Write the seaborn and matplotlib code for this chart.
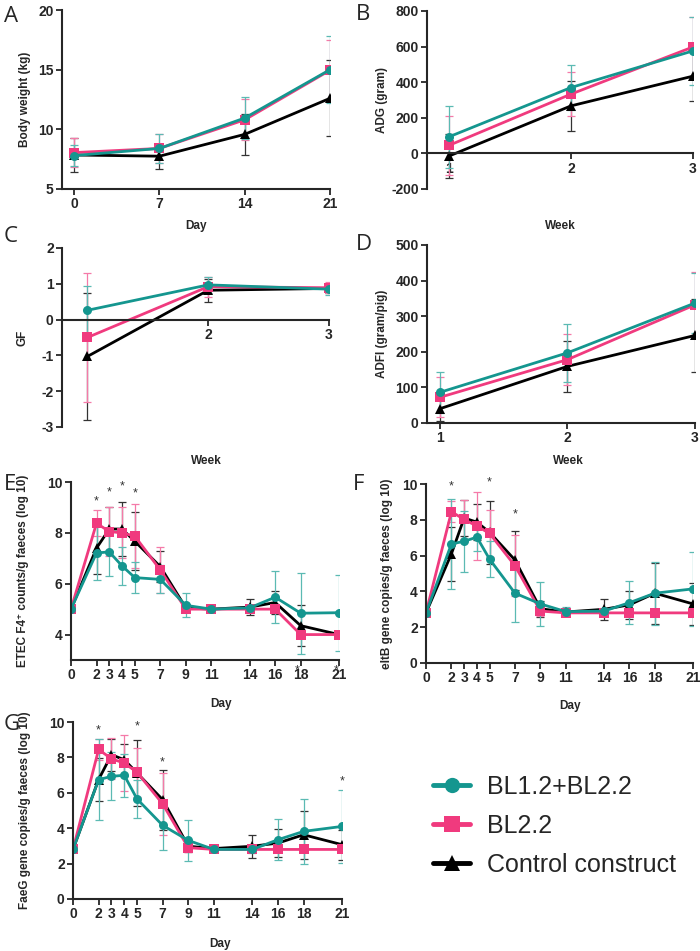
import numpy as np
import pandas as pd
import matplotlib
matplotlib.use('Agg')
import matplotlib.pyplot as plt
from matplotlib.lines import Line2D
import seaborn as sns

# Groups (drawn bottom to top)
groups = ['Control construct', 'BL2.2', 'BL1.2+BL2.2']
legend_order = ['BL1.2+BL2.2', 'BL2.2', 'Control construct']
colors = {'BL1.2+BL2.2': '#14968f', 'BL2.2': '#f03a7e', 'Control construct': '#000000'}
err_colors = {'BL1.2+BL2.2': '#5bbab3', 'BL2.2': '#f57aa8', 'Control construct': '#333333'}
markers = {'BL1.2+BL2.2': 'o', 'BL2.2': 's', 'Control construct': '^'}

# A - body weight
bw_day = [0, 7, 14, 21]
bw_combo = [7.8, 8.4, 10.95, 15.0]
bw_combo_sd = [0.9, 1.2, 1.75, 2.8]
bw_bl22 = [8.05, 8.4, 10.8, 14.95]
bw_bl22_sd = [1.2, 1.2, 1.7, 2.5]
bw_ctrl = [7.85, 7.75, 9.58, 12.6]
bw_ctrl_sd = [1.45, 1.05, 1.7, 3.2]

# B - ADG
week = [1, 2, 3]
adg_combo = [93, 370, 576]
adg_combo_sd = [174, 125, 190]
adg_bl22 = [45, 333, 598]
adg_bl22_sd = [164, 125, 168]
adg_ctrl = [-15, 267, 434]
adg_ctrl_sd = [125, 140, 139]

# C - GF
gf_combo = [0.26, 0.97, 0.85]
gf_combo_sd = [0.68, 0.22, 0.15]
gf_bl22 = [-0.5, 0.92, 0.89]
gf_bl22_sd = [1.8, 0.28, 0.15]
gf_ctrl = [-1.03, 0.82, 0.87]
gf_ctrl_sd = [1.78, 0.32, 0.13]

# D - ADFI
adfi_combo = [86, 197, 337]
adfi_combo_sd = [57, 82, 83]
adfi_bl22 = [72, 178, 332]
adfi_bl22_sd = [56, 72, 91]
adfi_ctrl = [40, 159, 246]
adfi_ctrl_sd = [35, 71, 103]

# E, F, G - faecal shedding
days = [0, 2, 3, 4, 5, 7, 9, 11, 14, 16, 18, 21]
day_ticks = [0, 2, 3, 4, 5, 7, 9, 11, 14, 16, 18, 21]

etec_combo = [5.0, 7.21, 7.25, 6.7, 6.24, 6.17, 5.15, 5.0, 5.05, 5.47, 4.84, 4.86]
etec_combo_sd = [0.0, 1.05, 0.95, 0.75, 0.6, 0.55, 0.47, 0.05, 0.12, 1.02, 1.6, 1.5]
etec_bl22 = [5.0, 8.38, 8.05, 8.0, 7.87, 6.54, 5.0, 5.0, 5.0, 5.0, 4.0, 4.0]
etec_bl22_sd = [0.0, 0.5, 0.97, 1.0, 1.26, 0.9, 0.0, 0.0, 0.0, 0.0, 0.0, 0.0]
etec_ctrl = [5.0, 7.4, 8.15, 8.15, 7.67, 6.67, 5.05, 5.0, 5.08, 5.26, 4.35, 4.0]
etec_ctrl_sd = [0.0, 1.0, 0.85, 1.07, 1.14, 0.6, 0.0, 0.0, 0.3, 0.46, 0.8, 0.0]
etec_star_x = [2, 3, 4, 5, 17.7, 20.8]
etec_star_y = [9.24, 9.57, 9.83, 9.55, 2.6, 2.6]

eltb_combo = [2.8, 6.65, 6.8, 7.03, 5.8, 3.9, 3.3, 2.87, 2.9, 3.37, 3.9, 4.14]
eltb_combo_sd = [0.0, 2.5, 1.7, 0.8, 1.0, 1.6, 1.25, 0.25, 0.2, 1.2, 1.77, 2.07]
eltb_bl22 = [2.8, 8.45, 8.02, 7.65, 7.24, 5.43, 2.9, 2.8, 2.8, 2.8, 2.8, 2.8]
eltb_bl22_sd = [0.0, 0.6, 1.1, 1.9, 1.3, 1.7, 0.3, 0.0, 0.0, 0.0, 0.0, 0.0]
eltb_ctrl = [2.8, 6.1, 8.1, 7.87, 7.3, 5.75, 3.03, 2.85, 3.0, 3.25, 3.9, 3.3]
eltb_ctrl_sd = [0.0, 1.5, 1.0, 1.0, 1.75, 1.65, 0.45, 0.1, 0.6, 0.8, 1.7, 1.15]
eltb_star_x = [2, 5, 7]
eltb_star_y = [9.85, 10.1, 8.3]

faeg_combo = [2.8, 6.74, 6.93, 6.99, 5.65, 4.16, 3.31, 2.8, 2.8, 3.35, 3.82, 4.1]
faeg_combo_sd = [0.0, 2.3, 1.35, 1.2, 1.07, 1.4, 1.17, 0.15, 0.2, 1.17, 1.83, 2.04]
faeg_bl22 = [2.8, 8.45, 7.92, 7.68, 7.16, 5.37, 2.9, 2.8, 2.8, 2.8, 2.8, 2.8]
faeg_bl22_sd = [0.0, 0.6, 1.15, 1.6, 1.37, 1.75, 0.25, 0.0, 0.0, 0.0, 0.0, 0.0]
faeg_ctrl = [2.8, 6.75, 8.15, 7.87, 7.12, 5.61, 2.98, 2.85, 2.98, 3.16, 3.63, 3.07]
faeg_ctrl_sd = [0.0, 1.2, 0.9, 0.9, 1.88, 1.7, 0.35, 0.1, 0.65, 0.8, 1.37, 0.85]
faeg_star_x = [2, 5, 7, 21]
faeg_star_y = [9.5, 9.75, 7.72, 6.65]

sns.set_style('ticks')
plt.rcParams['font.family'] = ['Liberation Sans', 'DejaVu Sans']
plt.rcParams['font.weight'] = 'bold'
plt.rcParams['axes.labelweight'] = 'bold'
plt.rcParams['axes.unicode_minus'] = False

W, H = 700, 951
fig = plt.figure(figsize=(W / 100, H / 100), dpi=100)
all_axes = []


def box(l, t, r, b):
    return [l / W, 1 - b / H, (r - l) / W, (b - t) / H]


def draw_panel(ax, x, combo, combo_sd, bl22, bl22_sd, ctrl, ctrl_sd):
    series = {'BL1.2+BL2.2': (combo, combo_sd),
              'BL2.2': (bl22, bl22_sd),
              'Control construct': (ctrl, ctrl_sd)}
    rows = []
    for g in groups:
        for xi, yi in zip(x, series[g][0]):
            rows.append({'x': xi, 'y': yi, 'group': g})
    df = pd.DataFrame(rows)
    for g in groups:
        m, sd = series[g]
        ax.errorbar(x, m, yerr=sd, fmt='none', ecolor=err_colors[g],
                    elinewidth=0.9, capsize=3, capthick=0.9, zorder=1.5)
    sns.lineplot(data=df, x='x', y='y', hue='group', style='group',
                 hue_order=groups, style_order=groups, palette=colors,
                 markers=markers, dashes=False, linewidth=2.0, markersize=6.5,
                 markeredgewidth=0, errorbar=None, legend=False, sort=False,
                 ax=ax, zorder=2)
    sns.despine(ax=ax)
    for s in ['left', 'bottom']:
        ax.spines[s].set_linewidth(1.5)
    ax.tick_params(axis='both', width=1.3, length=4, labelsize=10, pad=2)
    all_axes.append(ax)


def set_ticks(ax, xt, yt):
    ax.set_xticks(xt, labels=[str(v) for v in xt])
    ax.set_yticks(yt, labels=[str(v) for v in yt])


def labels(ax, xlabel, ylabel, xl, yl, xlx=0.5):
    ax.set_xlabel(xlabel, fontsize=8.5, fontweight='bold')
    ax.set_ylabel(ylabel, fontsize=8.5, fontweight='bold')
    ax.xaxis.set_label_coords(xlx, xl)
    ax.yaxis.set_label_coords(yl, 0.5)


def stars(ax, xs, ys):
    for sx, sy in zip(xs, ys):
        ax.text(sx, sy, '*', ha='center', va='center', fontsize=9,
                fontweight='normal', color='#333333', clip_on=False)


def letter(x, y, s):
    fig.text(x / W, 1 - y / H, s, fontsize=16, family='Open Sans',
             fontweight='normal', ha='left', va='center')


# A
ax = fig.add_axes(box(62, 10, 330, 189))
draw_panel(ax, bw_day, bw_combo, bw_combo_sd, bw_bl22, bw_bl22_sd, bw_ctrl, bw_ctrl_sd)
ax.set_xlim(-1, 21)
ax.set_ylim(5, 20)
set_ticks(ax, bw_day, [5, 10, 15, 20])
labels(ax, 'Day', 'Body weight (kg)', -0.175, -0.116)
letter(4, 16, 'A')

# B
ax = fig.add_axes(box(427, 11, 693, 189))
draw_panel(ax, week, adg_combo, adg_combo_sd, adg_bl22, adg_bl22_sd, adg_ctrl, adg_ctrl_sd)
ax.spines['bottom'].set_position(('data', 0))
ax.set_xlim(0.82, 3)
ax.set_ylim(-200, 800)
set_ticks(ax, week, [-200, 0, 200, 400, 600, 800])
labels(ax, 'Week', 'ADG (gram)', -0.175, -0.147)
letter(356, 14, 'B')

# C
ax = fig.add_axes(box(62, 248, 329, 427))
draw_panel(ax, week, gf_combo, gf_combo_sd, gf_bl22, gf_bl22_sd, gf_ctrl, gf_ctrl_sd)
ax.spines['bottom'].set_position(('data', 0))
ax.set_xlim(0.79, 3)
ax.set_ylim(-3, 2)
set_ticks(ax, [2, 3], [-3, -2, -1, 0, 1, 2])
labels(ax, 'Week', 'GF', -0.155, -0.127, xlx=0.54)
letter(4, 236, 'C')

# D
ax = fig.add_axes(box(427, 245, 695, 423))
draw_panel(ax, week, adfi_combo, adfi_combo_sd, adfi_bl22, adfi_bl22_sd, adfi_ctrl, adfi_ctrl_sd)
ax.set_xlim(0.9, 3)
ax.set_ylim(0, 500)
set_ticks(ax, week, [0, 100, 200, 300, 400, 500])
labels(ax, 'Week', 'ADFI (gram/pig)', -0.18, -0.146, xlx=0.526)
letter(356, 245, 'D')

# E
ax = fig.add_axes(box(71, 482, 339, 660))
draw_panel(ax, days, etec_combo, etec_combo_sd, etec_bl22, etec_bl22_sd, etec_ctrl, etec_ctrl_sd)
ax.set_xlim(0, 21)
ax.set_ylim(3, 10)
set_ticks(ax, day_ticks, [4, 6, 8, 10])
stars(ax, etec_star_x, etec_star_y)
labels(ax, 'Day', 'ETEC F4\u207a counts/g faeces (log 10)', -0.213, -0.157, xlx=0.56)
letter(4, 484, 'E')

# F
ax = fig.add_axes(box(426, 484, 693, 663))
draw_panel(ax, days, eltb_combo, eltb_combo_sd, eltb_bl22, eltb_bl22_sd, eltb_ctrl, eltb_ctrl_sd)
ax.set_xlim(0, 21)
ax.set_ylim(0, 10)
set_ticks(ax, day_ticks, [0, 2, 4, 6, 8, 10])
stars(ax, eltb_star_x, eltb_star_y)
labels(ax, 'Day', 'eltB gene copies/g faeces (log 10)', -0.207, -0.124, xlx=0.54)
letter(353, 484, 'F')

# G
ax = fig.add_axes(box(73, 722, 342, 899))
draw_panel(ax, days, faeg_combo, faeg_combo_sd, faeg_bl22, faeg_bl22_sd, faeg_ctrl, faeg_ctrl_sd)
ax.set_xlim(0, 21)
ax.set_ylim(0, 10)
set_ticks(ax, day_ticks, [0, 2, 4, 6, 8, 10])
stars(ax, faeg_star_x, faeg_star_y)
labels(ax, 'Day', 'FaeG gene copies/g faeces (log 10)', -0.22, -0.156, xlx=0.546)
letter(4, 724, 'G')

# make sure every tick label is bold
fig.canvas.draw()
for a in all_axes:
    for lab in a.get_xticklabels() + a.get_yticklabels():
        lab.set_fontweight('bold')
        lab.set_fontsize(10)

# legend
handles = [Line2D([0], [0], color=colors[g], marker=markers[g], lw=3.5,
                  markersize=11, markeredgewidth=0) for g in legend_order]
fig.legend(handles, legend_order, loc='center left', bbox_to_anchor=(0.619, 0.1315),
           frameon=False, prop={'family': 'Liberation Sans', 'size': 18, 'weight': 'normal'},
           handlelength=1.48, handletextpad=0.68, labelspacing=0.6,
           borderpad=0, borderaxespad=0)

fig.savefig('out.png', dpi=100)
